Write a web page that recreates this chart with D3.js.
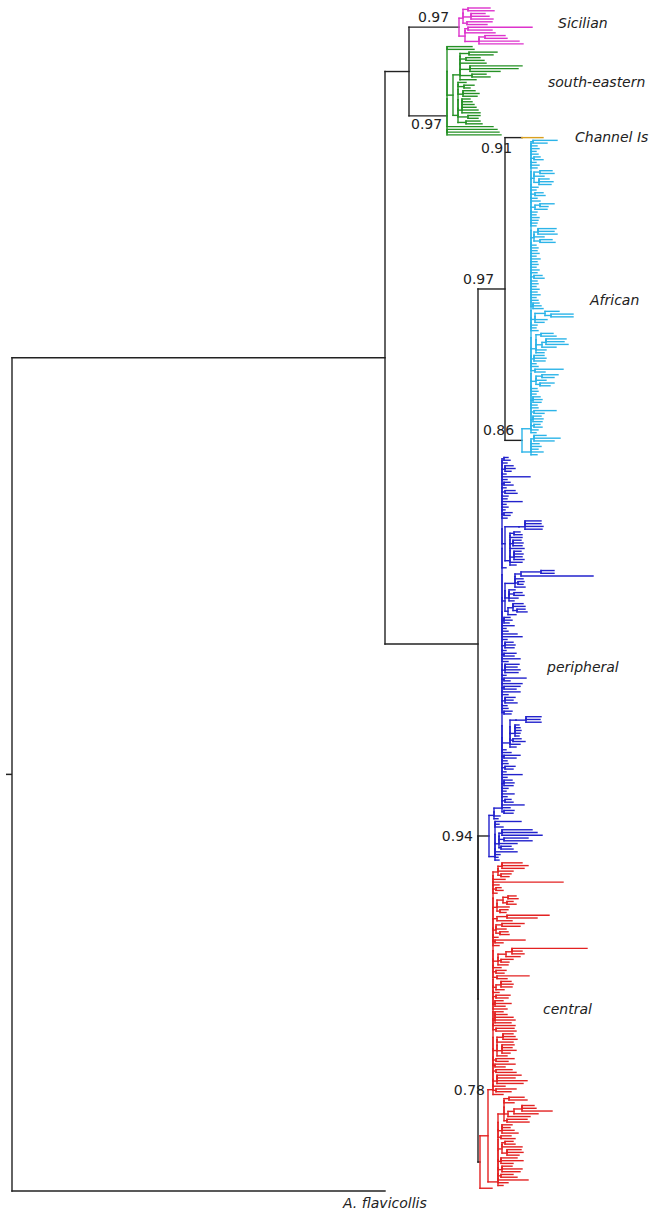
<!DOCTYPE html>
<html>
<head>
<meta charset="utf-8">
<script src="https://cdn.jsdelivr.net/npm/d3@7"></script>
<style>
  body { margin: 0; background: #fff; }
  text { font-family: "DejaVu Sans", sans-serif; fill: #222; }
</style>
</head>
<body>
<div id="tree"></div>
<script>
var svgWidth = 653;
var svgHeight = 1215;

// Subtrees. A number is a tip branch length, an array is [stem length, ...children].
// Nodes with more than two children are drawn as a ladder (zero-length internal branches).
var sicilian = [50,
  [4, [5, 22, 26], [8, 14, 18, 22], [4, 25, 20]],
  [6, [3, 64, 24], 30, [14, [6, 20, 22], 40, 44]]
];

var southEastern = [38,
  [0, 25, 27,
    [6,
      [7, [9, 28, 24], [6, 14, 18], 26, [10, 52, 48, 30], [12, 14, 18], 16],
      [5, 8, [6, 10, 6], [5, 12, 16, 14], [4, 8, 10, 12, 14, 16, 18], [10, 12, 10], [8, 14, 16]]
    ],
    46],
  [0, 50, 52, 54]
];

var channel = [17, 21];

var african = [17,
  [9,
    [2, 24, 14], 6, 8, 5, 7, [3, 6, 9], 5, 8, 6,
    [3, [6, 12, 14], 10, [5, 10, 14, 12]], 7, 5, [4, 8, 10], 6, 9,
    [4, [5, 14, 8], 12], 6, 5, 8, 7, 6, 5,
    [3, [4, 18, 16, 19], 10, [6, 12, 15]],
    5, 7, 6, 8, 5, 9, 6, 7, 5, 8, 6, [3, 8, 10], 6, 7, 5, 8, 6, 9, 5, 7,
    [2, 6, 8, 10], [4, [10, 14, [6, 22, 22]], 12, 9], 6, 5, 7,
    [5, [5, 12, 15], [6, [4, 20, 18, 22], 14], 10, 8],
    [3, 10, 12, 11], 5, 7, [4, 28, 10], [5, [6, 16, 12], 10, [4, 14, 10]],
    6, 7, 5, [2, 7, 9, 8], 6, 7, [3, 22, 10], [2, 8, 10, 9], [3, 6, 8], 7, 5
  ],
  [9, [3, 12, 26, 20], 8, 10, 7, 12, 6]
];

var peripheralMain = [8,
  [2, 4, 6], 5, [3, 8, 10, 6], 4, 28, 5, [2, 6, 9], 4, [3, 10, 12], 6, 5,
  20, 4, 6, 3, [2, 8, 6], 5,
  [3, [14, [6, 16, 16, 18, 17]], [5, [4, 6, 8], 12, [3, 8, 10, 9], 14, [4, 7, 9, 8, 10], 12, 6]],
  4,
  [3, [10, [6, [20, 13, 13], 72], 8, [3, 6, 5], 10], [4, 6, [5, 8, 10], 9, 5], [3, [5, 10, 12, [4, 8, 10]], 8]],
  [2, 6, 8, 5], 12, 4, 6, 15, 20, 5, [3, 8, 10, 9], 4, [2, 12, 10], 18, 6,
  [3, 14, 12, 15, 13], 4, [2, 22, 6], 20, [2, 16, 12], 18, 6,
  [3, 10, 8, 12], 5, 6, [2, 8, 7],
  [8, [6, [10, 15, 14, 15]], [5, 4, 5, 6, 5, 4], [3, 8, 12], 10, 6],
  4, 9, [2, 16, 12], 5, 6, [3, 10, 8], 4, 20, 5, [2, 8, 10, 9], 6, 4, 12, 5,
  [3, 6, 8], 22, 8, [2, 10, 9]
];
var peripheral = [11,
  [5, peripheralMain, 6, 4],
  [6, 26, 4, 8, [4, [3, 30, 35, 40], [5, 24, 28], 18, [2, 10, 12]], 22, 5, 3, 4]
];

var centralCore = [5,
  [5, [4, 20, 26, 22], 15, [3, 10, 8]], 12, 70, 6, [3, 5, 7], 4,
  [4, [6, [5, 8, 10], [4, 6, 9]], 12, [3, 8, 6]],
  [4, [10, 42, 30], 15],
  [3, [6, 22, 18], 10, [4, 8, 9]], 5, [2, 30, 8], 6,
  [5, [8, [6, 75, 10, 12], 14], [3, 12, 8], 10],
  8, [3, 10, 8], [4, 32, 10], [3, [5, 10, 12, 11], 8], 6, [3, 14, 12], [2, 8, 16, 10],
  14, [2, 8, 12, 18, 20, 16], 22, [3, 18, 20],
  [4, [6, 10, 12, 14], 16, [5, 12, 10, 14, 8], 10], [3, 18, 12], [2, 20, 10],
  [3, 16, 20], [4, 24, 18, 30, 26], 12, [3, 20, 15], 10
];
var centralLower = [10,
  [6, [5, 15, 18], 10, [4, [6, [8, 12, 14, 30], 24], 22], [3, 20, 22]],
  [4, 10, 8, 12, 16], [3, 10, 14], [4, [3, 8, 10], 20, [5, 14, 16, 12]],
  [3, 16, 22, 12], [4, 10, 20, 18], [3, 12, 16], 30, 10, 5
];
var central = [2, [8, centralCore, centralLower], 12];

// backbone branch lengths
var rootStem = 6;
var ingroupLen = 373;
var outgroupLen = 373;
var sicSELen = 24;
var restLen = 93;
var upperLen = 27;
var lowerLen = 0;

var cladeNames = ["Sicilian", "south-eastern", "Channel Is", "African", "peripheral", "central"];
var cladeColors = ["#dd33cc", "#259125", "#d9a020", "#2cb4e8", "#2222cc", "#e32222"];
var outgroupName = "A. flavicollis";

var supportNodes = ["sicilian", "southEastern", "channel", "upper", "african", "peripheral", "centralCore"];
var supportValues = ["0.97", "0.97", "0.91", "0.97", "0.86", "0.94", "0.78"];

// label placement (dx from parent node x, dy from node y, anchor)
var supportPlace = [[9, -5, "start"], [2, 13, "start"], [-24, 15, "start"], [-15, -5, "start"],
                    [-22, -5, "start"], [-5, 5, "end"], [-3, 5, "end"]];
var cladeLabelPos = [[558, 28], [548, 87], [575, 142], [590, 305], [547, 672], [543, 1014]];

function build(a) {
  if (typeof a === "number") return {len: a};
  var len = a[0];
  var nodes = a.slice(1).map(build);
  while (nodes.length > 2) {
    nodes = [{len: 0, children: [nodes[0], nodes[1]]}].concat(nodes.slice(2));
  }
  return {len: len, children: nodes};
}

var sicNode = build(sicilian);
var seNode = build(southEastern);
var chNode = build(channel);
var afNode = build(african);
var perNode = build(peripheral);
var cenNode = build(central);
var cladeNodes = [sicNode, seNode, chNode, afNode, perNode, cenNode];
cladeNodes.forEach(function(n, i) { n.color = cladeColors[i]; });

sicNode.name = "sicilian";
seNode.name = "southEastern";
chNode.name = "channel";
afNode.name = "african";
perNode.name = "peripheral";
// centralCore sits at central -> child[0] -> child[0]
cenNode.children[0].children[0].name = "centralCore";

var upperNode = {len: upperLen, name: "upper", children: [chNode, afNode]};
var treeData = {len: rootStem, children: [
  {len: ingroupLen, children: [
    {len: sicSELen, children: [sicNode, seNode]},
    {len: restLen, children: [upperNode, {len: lowerLen, children: [perNode, cenNode]}]}
  ]},
  {len: outgroupLen, name: "outgroup"}
]};

var root = d3.hierarchy(treeData);
root.eachBefore(function(d) {
  d.dist = (d.parent ? d.parent.dist : 0) + d.data.len;
  d.inner = d.data.color || (d.parent ? d.parent.inner : "#222");
});

var leaves = root.leaves();
var yScale = d3.scaleLinear().domain([0, leaves.length - 1]).range([8, 1191]);
var xScale = d3.scaleLinear().domain([0, 600]).range([6, 606]);

leaves.forEach(function(d, i) { d.y = yScale(i); });
root.eachAfter(function(d) {
  if (d.children) d.y = (d.children[0].y + d.children[d.children.length - 1].y) / 2;
  d.x = xScale(d.dist);
});

var svg = d3.select("#tree")
  .append("svg")
  .attr("width", svgWidth)
  .attr("height", svgHeight);

svg.append("rect").attr("width", svgWidth).attr("height", svgHeight).attr("fill", "#fff");

var g = svg.append("g").attr("fill", "none");

// root stem
g.append("line")
  .attr("x1", xScale(0)).attr("x2", root.x)
  .attr("y1", root.y).attr("y2", root.y)
  .attr("stroke", "#222").attr("stroke-width", 1.5);

var nodes = root.descendants();

// horizontal branches
g.selectAll("line.h")
  .data(nodes.filter(function(d) { return d.parent; }))
  .enter()
  .append("line")
  .attr("class", "h")
  .attr("x1", function(d) { return d.parent.x; })
  .attr("x2", function(d) { return d.x; })
  .attr("y1", function(d) { return d.y; })
  .attr("y2", function(d) { return d.y; })
  .attr("stroke", function(d) { return d.parent.inner; })
  .attr("stroke-width", 1.4)
  .attr("stroke-linecap", "square");

// vertical connectors
g.selectAll("line.v")
  .data(nodes.filter(function(d) { return d.children; }))
  .enter()
  .append("line")
  .attr("class", "v")
  .attr("x1", function(d) { return d.x; })
  .attr("x2", function(d) { return d.x; })
  .attr("y1", function(d) { return d.children[0].y; })
  .attr("y2", function(d) { return d.children[d.children.length - 1].y; })
  .attr("stroke", function(d) { return d.inner; })
  .attr("stroke-width", 1.4)
  .attr("stroke-linecap", "square");

// support values
var byName = {};
nodes.forEach(function(d) { if (d.data.name) byName[d.data.name] = d; });

svg.selectAll("text.support")
  .data(supportNodes)
  .enter()
  .append("text")
  .attr("class", "support")
  .attr("x", function(n, i) { return byName[n].parent.x + supportPlace[i][0]; })
  .attr("y", function(n, i) { return byName[n].y + supportPlace[i][1]; })
  .attr("text-anchor", function(n, i) { return supportPlace[i][2]; })
  .attr("font-size", "14px")
  .text(function(n, i) { return supportValues[i]; });

// clade labels
svg.selectAll("text.clade")
  .data(cladeNames)
  .enter()
  .append("text")
  .attr("class", "clade")
  .attr("x", function(n, i) { return cladeLabelPos[i][0]; })
  .attr("y", function(n, i) { return cladeLabelPos[i][1]; })
  .attr("font-size", "14px")
  .attr("font-style", "italic")
  .text(function(n) { return n; });

var og = byName["outgroup"];
svg.append("text")
  .attr("x", og.x - 42)
  .attr("y", og.y + 17)
  .attr("font-size", "14px")
  .attr("font-style", "italic")
  .text(outgroupName);
</script>
</body>
</html>
